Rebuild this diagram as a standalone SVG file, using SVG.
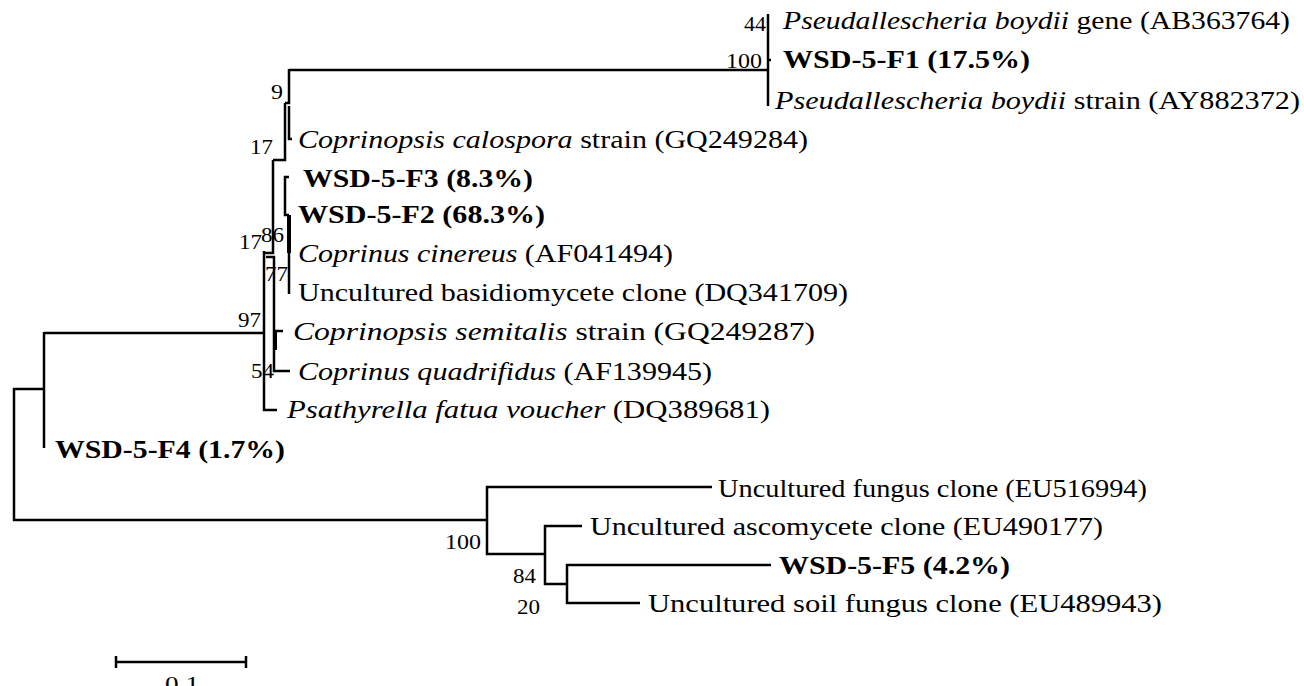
<svg xmlns="http://www.w3.org/2000/svg" width="1304" height="686" viewBox="0 0 1304 686">
<style>
  .t{font-family:"Liberation Serif","Times New Roman",serif;font-size:26px;fill:#000}
  .b{font-weight:bold}
  .i{font-style:italic}
  .n{font-family:"Liberation Serif","Times New Roman",serif;font-size:22px;fill:#000;text-anchor:end}
  .e{fill:none;stroke:#000;stroke-width:2.5;stroke-linecap:butt}
  .k{fill:none;stroke:#000;stroke-width:4}
</style>
<rect width="1304" height="686" fill="#fff"/>
<g id="connectors">
  <path class="e" d="M768 14V106M768 60H771"/>
  <path class="e" d="M289 70H768"/>
  <path class="e" d="M289 69V103H285"/>
  <path class="e" d="M289 106V139H292"/>
  <path class="e" d="M285 103V160H273"/>
  <path class="e" d="M289 177H285V215H289"/>
  <path class="k" d="M289 215V253"/>
  <path class="e" d="M289 253V294"/>
  <path class="e" d="M273 160V253H264"/>
  <path class="e" d="M266 257H274V371H290"/>
  <path class="e" d="M274 331H283"/>
  <path class="k" d="M275 331V350"/>
  <path class="e" d="M264 251V410H277"/>
  <path class="e" d="M44 333H264"/>
  <path class="e" d="M44 332V448"/>
  <path class="e" d="M13 389H45"/>
  <path class="e" d="M14 388V521"/>
  <path class="e" d="M13 520H488"/>
  <path class="e" d="M712 487H487V554H545"/>
  <path class="e" d="M582 526H545V584H567"/>
  <path class="e" d="M771 565H567V603H640"/>
  <path class="e" d="M116 662H246M116 656V668M246 656V668"/>
</g>
<g id="bootstrap">
  <text class="n" x="766" y="31" textLength="22" lengthAdjust="spacingAndGlyphs">44</text>
  <text class="n" x="762" y="68" textLength="36" lengthAdjust="spacingAndGlyphs">100</text>
  <text class="n" x="283" y="99" textLength="12" lengthAdjust="spacingAndGlyphs">9</text>
  <text class="n" x="273" y="154" textLength="23" lengthAdjust="spacingAndGlyphs">17</text>
  <text class="n" x="262" y="249" textLength="23" lengthAdjust="spacingAndGlyphs">17</text>
  <text class="n" x="284" y="242" textLength="23" lengthAdjust="spacingAndGlyphs">86</text>
  <text class="n" x="288" y="281" textLength="23" lengthAdjust="spacingAndGlyphs">77</text>
  <text class="n" x="261" y="327" textLength="23" lengthAdjust="spacingAndGlyphs">97</text>
  <text class="n" x="274" y="378" textLength="23" lengthAdjust="spacingAndGlyphs">54</text>
  <text class="n" x="481" y="549" textLength="36" lengthAdjust="spacingAndGlyphs">100</text>
  <text class="n" x="536" y="583" textLength="23" lengthAdjust="spacingAndGlyphs">84</text>
  <text class="n" x="540" y="614" textLength="23" lengthAdjust="spacingAndGlyphs">20</text>
  <text class="n" x="199" y="691" textLength="34" lengthAdjust="spacingAndGlyphs">0.1</text>
</g>
<g id="leaf-AB363764"><text class="t" x="783" y="29" textLength="507" lengthAdjust="spacingAndGlyphs"><tspan class="i">Pseudallescheria boydii</tspan> gene (AB363764)</text></g>
<g id="leaf-F1"><text class="t b" x="783" y="68" textLength="247" lengthAdjust="spacingAndGlyphs">WSD-5-F1 (17.5%)</text></g>
<g id="leaf-AY882372"><text class="t" x="775" y="109" textLength="525" lengthAdjust="spacingAndGlyphs"><tspan class="i">Pseudallescheria boydii</tspan> strain (AY882372)</text></g>
<g id="leaf-GQ249284"><text class="t" x="298" y="148" textLength="510" lengthAdjust="spacingAndGlyphs"><tspan class="i">Coprinopsis calospora</tspan> strain (GQ249284)</text></g>
<g id="leaf-F3"><text class="t b" x="303" y="187" textLength="230" lengthAdjust="spacingAndGlyphs">WSD-5-F3 (8.3%)</text></g>
<g id="leaf-F2"><text class="t b" x="298" y="223" textLength="247" lengthAdjust="spacingAndGlyphs">WSD-5-F2 (68.3%)</text></g>
<g id="leaf-AF041494"><text class="t" x="298" y="262" textLength="375" lengthAdjust="spacingAndGlyphs"><tspan class="i">Coprinus cinereus</tspan> (AF041494)</text></g>
<g id="leaf-DQ341709"><text class="t" x="298" y="301" textLength="550" lengthAdjust="spacingAndGlyphs">Uncultured basidiomycete clone (DQ341709)</text></g>
<g id="leaf-GQ249287"><text class="t" x="293" y="340" textLength="522" lengthAdjust="spacingAndGlyphs"><tspan class="i">Coprinopsis semitalis</tspan> strain (GQ249287)</text></g>
<g id="leaf-AF139945"><text class="t" x="298" y="380" textLength="414" lengthAdjust="spacingAndGlyphs"><tspan class="i">Coprinus quadrifidus</tspan> (AF139945)</text></g>
<g id="leaf-DQ389681"><text class="t" x="287" y="418" textLength="483" lengthAdjust="spacingAndGlyphs"><tspan class="i">Psathyrella fatua voucher</tspan> (DQ389681)</text></g>
<g id="leaf-F4"><text class="t b" x="55" y="458" textLength="230" lengthAdjust="spacingAndGlyphs">WSD-5-F4 (1.7%)</text></g>
<g id="leaf-EU516994"><text class="t" x="718" y="497" textLength="429" lengthAdjust="spacingAndGlyphs">Uncultured fungus clone (EU516994)</text></g>
<g id="leaf-EU490177"><text class="t" x="590" y="535" textLength="513" lengthAdjust="spacingAndGlyphs">Uncultured ascomycete clone (EU490177)</text></g>
<g id="leaf-F5"><text class="t b" x="779" y="574" textLength="231" lengthAdjust="spacingAndGlyphs">WSD-5-F5 (4.2%)</text></g>
<g id="leaf-EU489943"><text class="t" x="648" y="612" textLength="514" lengthAdjust="spacingAndGlyphs">Uncultured soil fungus clone (EU489943)</text></g>
</svg>
